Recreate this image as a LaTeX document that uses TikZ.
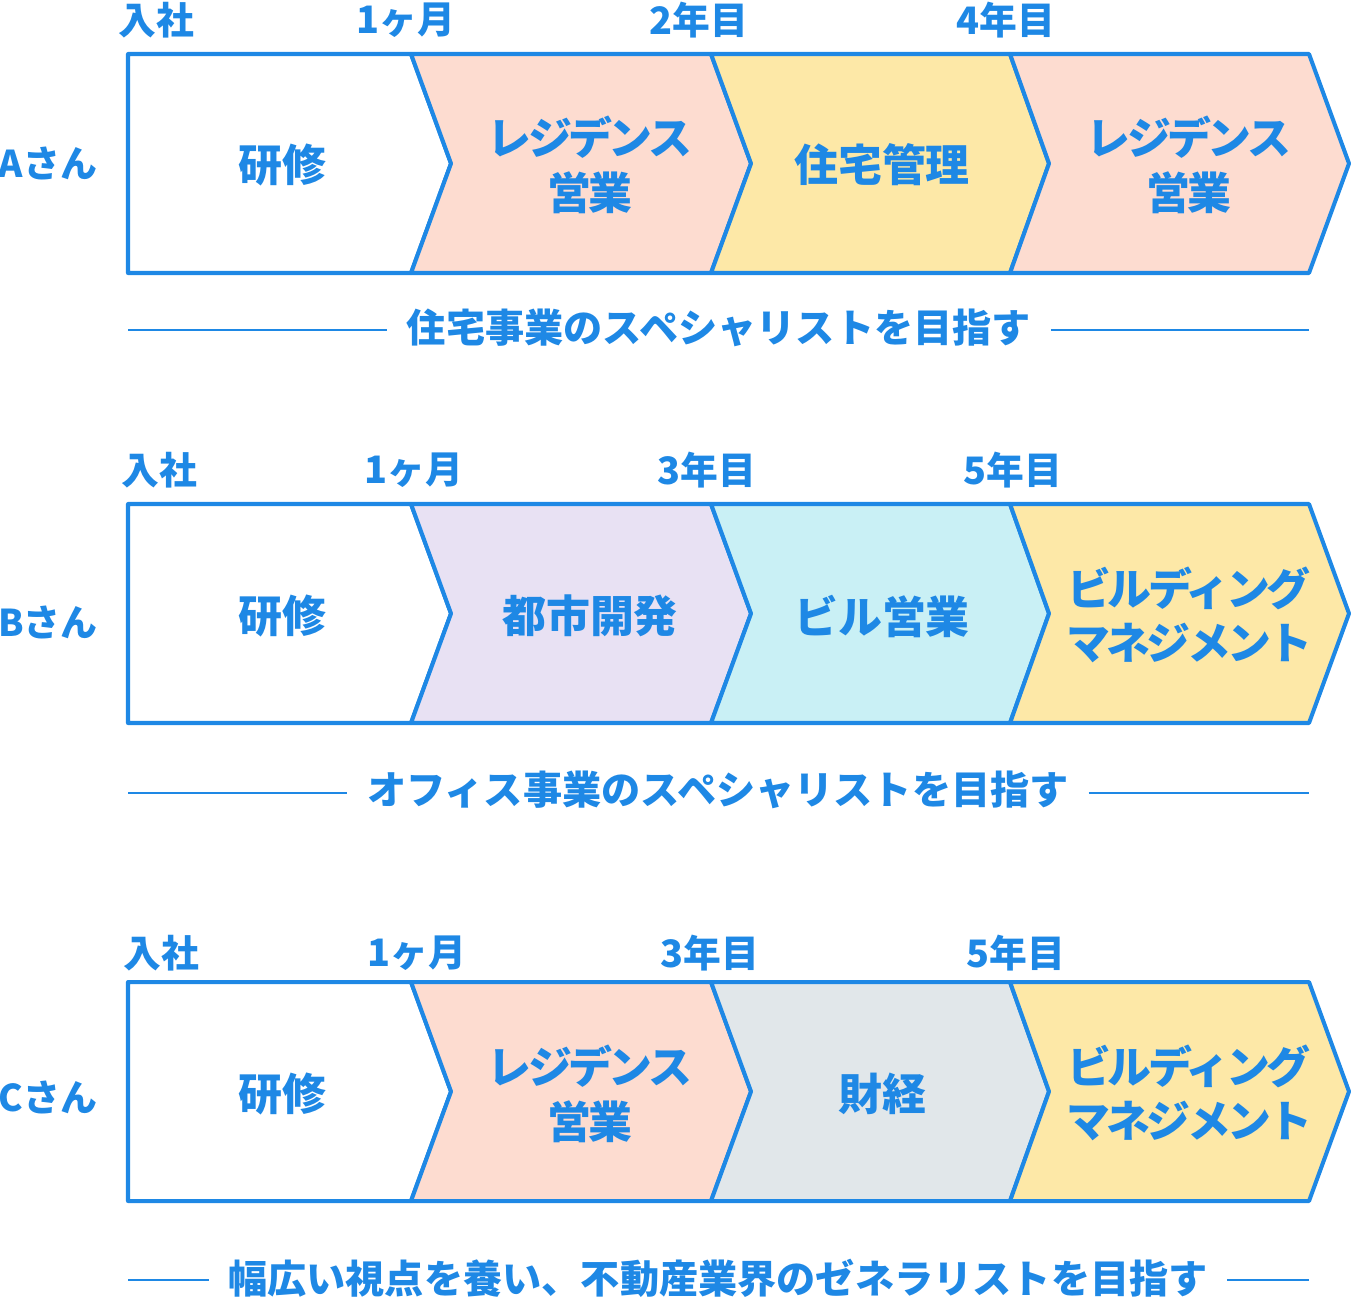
\documentclass[tikz,border=0pt]{standalone}
\usepackage{fontspec}
\setmainfont{Noto Sans CJK JP}
\definecolor{accent}{HTML}{1E88E5}
\definecolor{pinkbg}{HTML}{FDDCD0}
\definecolor{yellowbg}{HTML}{FDE8A7}
\definecolor{lavbg}{HTML}{E8E1F3}
\definecolor{cyanbg}{HTML}{C9F0F5}
\definecolor{greybg}{HTML}{E1E7EA}

\begin{document}
\begin{tikzpicture}[x=0.02cm, y=-0.02cm,
  stage/.style={draw=accent, line width=2.3pt, line join=round},
  stagetext/.style={text=accent, font=\bfseries\fontsize{25}{31}\selectfont, align=center, inner sep=0pt},
  kanatext/.style={stagetext, font=\bfseries\fontsize{25}{31}\selectfont\addfontfeature{LetterSpace=-8}},
  period/.style={text=accent, font=\bfseries\fontsize{21.5}{25}\selectfont, inner sep=0pt},
  person/.style={text=accent, font=\bfseries\fontsize{21}{25}\selectfont, inner sep=0pt},
  goal/.style={text=accent, font=\bfseries\fontsize{22.3}{26}\selectfont, inner xsep=11pt, inner ysep=0pt},
  rule/.style={draw=accent, line width=1pt}]
  \useasboundingbox (0,0) rectangle (1351,1296);
  % chevrons, one row per person
  \foreach \t/\ca/\cb/\cc in {54/pinkbg/yellowbg/pinkbg, 504/lavbg/cyanbg/yellowbg, 982/pinkbg/greybg/yellowbg} {
    \draw[stage, fill=white] (128,\t) -- (411,\t) -- (451,\t+109.5) -- (411,\t+219) -- (128,\t+219) -- cycle;
    \draw[stage, fill=\ca] (411,\t) -- (711,\t) -- (751,\t+109.5) -- (711,\t+219) -- (411,\t+219) -- (451,\t+109.5) -- cycle;
    \draw[stage, fill=\cb] (711,\t) -- (1010,\t) -- (1049,\t+109.5) -- (1010,\t+219) -- (711,\t+219) -- (751,\t+109.5) -- cycle;
    \draw[stage, fill=\cc] (1010,\t) -- (1309,\t) -- (1349,\t+109.5) -- (1309,\t+219) -- (1010,\t+219) -- (1049,\t+109.5) -- cycle;
  }

  % A
  \node[person] (pA) at (48,163) {Aさん};
  \node[period] (a0) at (156,20) {入社};
  \node[period] (a1) at (406,20) {1ヶ月};
  \node[period] (a2) at (699,20) {2年目};
  \node[period] (a3) at (1006,20) {4年目};
  \node[stagetext] (sA1) at (282,165) {研修};
  \node[kanatext] (sA2) at (590,165) {レジデンス\\営業};
  \node[stagetext] (sA3) at (882,165) {住宅管理};
  \node[kanatext] (sA4) at (1189,165) {レジデンス\\営業};
  \node[goal] (gA) at (719,328) {住宅事業のスペシャリストを目指す};
  \coordinate (gAl) at (128,330);
  \coordinate (gAr) at (1309,330);
  \draw[rule] (gAl) -- (gA.west |- gAl);
  \draw[rule] (gA.east |- gAr) -- (gAr);

  % B
  \node[person] (pB) at (48,622) {Bさん};
  \node[period] (b0) at (159,470) {入社};
  \node[period] (b1) at (414,470) {1ヶ月};
  \node[period] (b2) at (707,470) {3年目};
  \node[period] (b3) at (1013,470) {5年目};
  \node[stagetext] (sB1) at (282,616) {研修};
  \node[stagetext] (sB2) at (590,616) {都市開発};
  \node[stagetext] (sB3) at (882,616) {ビル営業};
  \node[kanatext] (sB4) at (1189,615) {ビルディング\\マネジメント};
  \node[goal] (gB) at (718,790) {オフィス事業のスペシャリストを目指す};
  \coordinate (gBl) at (128,793);
  \coordinate (gBr) at (1309,793);
  \draw[rule] (gBl) -- (gB.west |- gBl);
  \draw[rule] (gB.east |- gBr) -- (gBr);

  % C
  \node[person] (pC) at (48,1097) {Cさん};
  \node[period] (c0) at (161,953) {入社};
  \node[period] (c1) at (417,953) {1ヶ月};
  \node[period] (c2) at (710,953) {3年目};
  \node[period] (c3) at (1016,953) {5年目};
  \node[stagetext] (sC1) at (282,1094) {研修};
  \node[kanatext] (sC2) at (590,1094) {レジデンス\\営業};
  \node[stagetext] (sC3) at (882,1094) {財経};
  \node[kanatext] (sC4) at (1189,1093) {ビルディング\\マネジメント};
  \node[goal] (gC) at (718,1278) {幅広い視点を養い、不動産業界のゼネラリストを目指す};
  \coordinate (gCl) at (128,1280);
  \coordinate (gCr) at (1309,1280);
  \draw[rule] (gCl) -- (gC.west |- gCl);
  \draw[rule] (gC.east |- gCr) -- (gCr);
\end{tikzpicture}
\end{document}
